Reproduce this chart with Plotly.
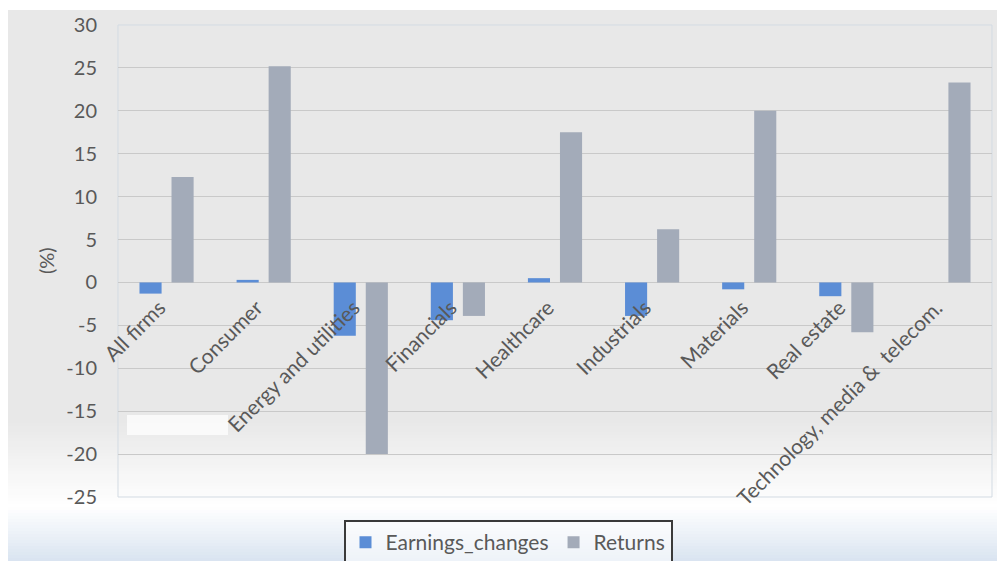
import plotly.graph_objects as go

categories = ["All firms", "Consumer", "Energy and utilities", "Financials", "Healthcare",
              "Industrials", "Materials", "Real estate", "Technology, media &  telecom."]
earnings_changes = [-1.3, 0.3, -6.2, -4.4, 0.5, -3.9, -0.8, -1.6, 0.0]
returns = [12.3, 25.2, -20.0, -3.9, 17.5, 6.2, 20.0, -5.8, 23.3]
y_ticks = [30, 25, 20, 15, 10, 5, 0, -5, -10, -15, -20, -25]
y_tick_text = ["30", "25", "20", "15", "10", "5", "0", "-5", "-10", "-15", "-20", "-25"]

W, H = 997, 561
L, R, T, B = 118, 992, 25, 497  # plot area in pixels

def xp(px):
    return (px - L) / (R - L)

def yp(py):
    return (B - py) / (B - T)

FONT = "Lato"
TXT = "#595959"

fig = go.Figure()
fig.add_trace(go.Bar(x=categories, y=earnings_changes, name="Earnings_changes",
                     marker=dict(color="#5b8dd6", line=dict(width=0))))
fig.add_trace(go.Bar(x=categories, y=returns, name="Returns",
                     marker=dict(color="#a3abb9", line=dict(width=0))))

shapes = []
shapes.append(dict(type="rect", xref="paper", yref="paper", x0=xp(8), x1=xp(W + 2),
                   y0=yp(421), y1=yp(10), fillcolor="#e8e8e8", line=dict(width=0), layer="below"))

def mix(c1, c2, t):
    return "#%02x%02x%02x" % tuple(int(round(a + (b - a) * t)) for a, b in zip(c1, c2))

top_c = (232, 232, 232)
white = (255, 255, 255)
blue = (216, 227, 240)
step = 3
for py in range(420, 562, step):
    if py < 505:
        c = mix(top_c, white, (py - 420) / 85)
    else:
        c = mix(white, blue, (py - 505) / 56)
    shapes.append(dict(type="rect", xref="paper", yref="paper", x0=xp(8), x1=xp(W + 2),
                       y0=yp(py + step + 0.5), y1=yp(py), fillcolor=c,
                       line=dict(width=0), layer="below"))
shapes.append(dict(type="rect", xref="paper", yref="paper", x0=0, x1=1, y0=0, y1=1,
                   line=dict(color="#d3dbe3", width=1), fillcolor="rgba(0,0,0,0)", layer="below"))
shapes.append(dict(type="rect", xref="paper", yref="paper", x0=xp(127), x1=xp(228),
                   y0=yp(435), y1=yp(415), fillcolor="rgba(255,255,255,0.75)",
                   line=dict(width=0), layer="below"))

fig.update_layout(
    width=W, height=H,
    margin=dict(l=L, r=W - R, t=T, b=H - B, autoexpand=False),
    paper_bgcolor="white",
    plot_bgcolor="rgba(0,0,0,0)",
    barmode="group", bargap=0.34, bargroupgap=0.31,
    font=dict(family=FONT, size=18, color=TXT),
    shapes=shapes,
    showlegend=True,
    legend=dict(orientation="h", xanchor="center", x=xp(508), yanchor="top", y=yp(520),
                bordercolor="#3a3a3a", borderwidth=2, bgcolor="rgba(255,255,255,0.55)",
                font=dict(family=FONT, size=21, color=TXT), itemwidth=30,
                traceorder="normal"),
    annotations=[dict(text="(%)", xref="paper", yref="paper", x=xp(46), y=0.5,
                      xanchor="center", yanchor="middle",
                      textangle=-90, showarrow=False, font=dict(family=FONT, size=20, color=TXT))],
)
fig.update_yaxes(range=[-25, 30], tickvals=y_ticks, ticktext=y_tick_text,
                 gridcolor="#c9c9c9", gridwidth=1,
                 zeroline=True, zerolinecolor="#c9c9c9", zerolinewidth=1,
                 showline=False, ticks="", ticklabelstandoff=20,
                 tickfont=dict(family=FONT, size=20, color=TXT))
fig.update_xaxes(anchor="free", position=25 / 55, showgrid=False, showline=False, ticks="",
                 tickangle=-45, ticklabelstandoff=8, ticklabelshift=-7,
                 tickfont=dict(family=FONT, size=21, color=TXT))

fig.write_html("out.html")
